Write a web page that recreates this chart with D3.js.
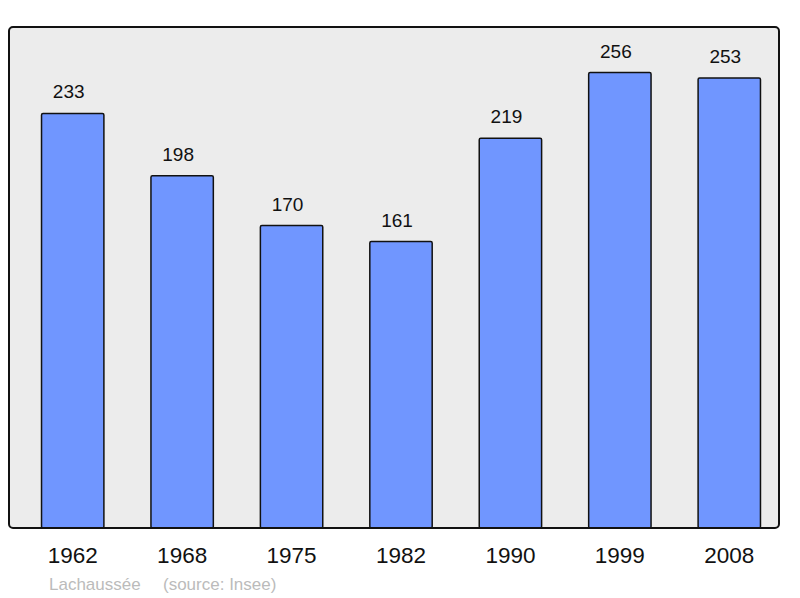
<!DOCTYPE html>
<head>
    <meta charset="utf-8">
    <script src="https://cdnjs.cloudflare.com/ajax/libs/d3/7.9.0/d3.js"></script>
    <style>
        body { margin: 0; background: #fff; }
        text { font-family: "Liberation Sans", Arial, sans-serif; }
    </style>
</head>
<body>
    <div id="chart"></div>
</body>
<script>

// data
const years = ["1962", "1968", "1975", "1982", "1990", "1999", "2008"]
const population = [233, 198, 170, 161, 219, 256, 253]
const placeName = "Lachaussée"
const sourceNote = "(source: Insee)"

const W = 800, H = 598
const frame = {left: 9, top: 27, right: 779, bottom: 528}

const svg = d3.select("#chart")
    .append("svg")
    .attr("width", W)
    .attr("height", H)

// background panel
svg.append("rect")
    .attr("x", frame.left)
    .attr("y", frame.top)
    .attr("width", frame.right - frame.left)
    .attr("height", frame.bottom - frame.top)
    .attr("rx", 4)
    .attr("fill", "#ececec")

const x = d3.scaleBand()
    .domain(years)
    .range([18, 784])
    .paddingInner(0.43)
    .paddingOuter(0.215)

const y = d3.scaleLinear()
    .domain([0, d3.max(population) * 1.1])
    .range([frame.bottom, frame.top])

// bars
svg.selectAll(".bar")
    .data(population)
    .join("rect")
    .attr("class", "bar")
    .attr("x", (d, i) => x(years[i]))
    .attr("y", d => y(d))
    .attr("width", x.bandwidth())
    .attr("height", d => y(0) - y(d))
    .attr("rx", 1.5)
    .attr("fill", "#7096ff")
    .attr("stroke", "#111")
    .attr("stroke-width", 1.5)

// value labels
svg.selectAll(".val")
    .data(population)
    .join("text")
    .attr("class", "val")
    .attr("x", (d, i) => x(years[i]) + x.bandwidth() / 2 - 4)
    .attr("y", d => y(d) - 15)
    .attr("text-anchor", "middle")
    .attr("font-size", 19)
    .attr("fill", "#111")
    .text(d => d)

// frame border on top
svg.append("rect")
    .attr("x", frame.left)
    .attr("y", frame.top)
    .attr("width", frame.right - frame.left)
    .attr("height", frame.bottom - frame.top)
    .attr("rx", 4)
    .attr("fill", "none")
    .attr("stroke", "#111")
    .attr("stroke-width", 2)

// year labels
const xAxis = svg.append("g")
    .attr("transform", `translate(0, ${frame.bottom})`)
    .call(d3.axisBottom(x).tickSize(0).tickPadding(19))

xAxis.select(".domain").remove()
xAxis.selectAll("text")
    .attr("font-size", 22.5)
    .attr("fill", "#111")
    .attr("font-family", "Liberation Sans, Arial, sans-serif")

// footer
const footer = svg.append("text")
    .attr("y", 590)
    .attr("font-size", 17)
    .attr("fill", "#bbb")

footer.append("tspan").attr("x", 49).text(placeName)
footer.append("tspan").attr("x", 163).text(sourceNote)

</script>
